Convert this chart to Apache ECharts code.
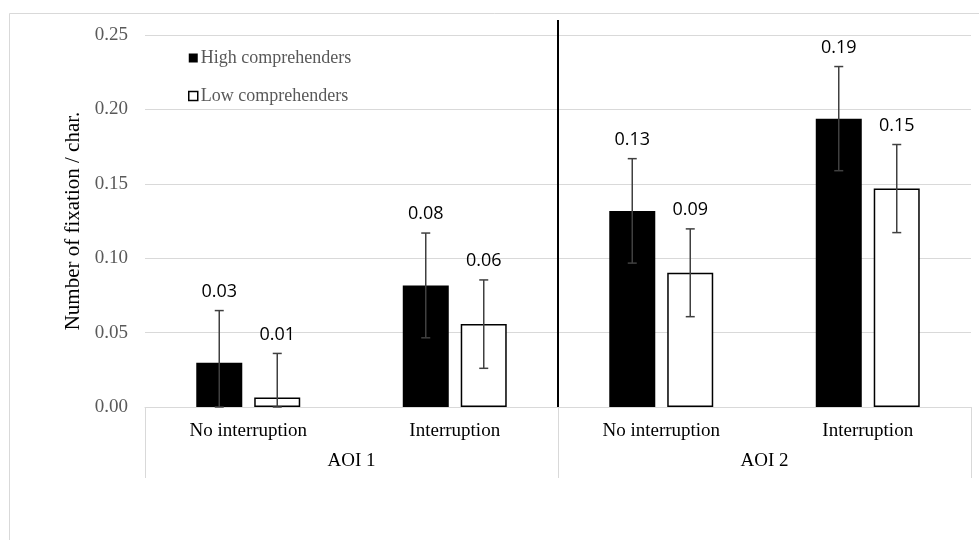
<!DOCTYPE html>
<html>
<head>
<meta charset="utf-8">
<script src="https://cdn.jsdelivr.net/npm/echarts@6/dist/echarts.min.js"></script>
<style>
  html, body { margin: 0; padding: 0; background: #fff; }
  #chart { width: 979px; height: 540px; }
</style>
</head>
<body>
<div id="chart"></div>
<script>
// categories
const conditions = ['No interruption', 'Interruption', 'No interruption', 'Interruption'];
const aois = ['AOI 1', 'AOI 2'];
const seriesNames = ['High comprehenders', 'Low comprehenders'];

// means + error (+/-) per condition
const highMean = [0.0298, 0.0817, 0.1318, 0.1938];
const highErr = [0.035, 0.0352, 0.0351, 0.035];
const lowMean = [0.0064, 0.0557, 0.0902, 0.1468];
const lowErr = [0.0296, 0.0297, 0.0295, 0.0296];

const yTicks = [0, 0.05, 0.10, 0.15, 0.20, 0.25];
const dividerAt = 2; // boundary between AOI 1 and AOI 2 (in category units)

const SERIF = '"Liberation Serif", "Times New Roman", serif';
const SANS = '"Open Sans", "Noto Sans", sans-serif';
const GRID_GRAY = '#d9d9d9';

const chart = echarts.init(document.getElementById('chart'));

function errorBars(means, errs, shift) {
  return {
    type: 'custom',
    xAxisIndex: 0,
    yAxisIndex: 0,
    silent: true,
    z: 5,
    data: means.map((m, i) => [i, m, errs[i]]),
    renderItem(params, api) {
      const i = api.value(0);
      const m = api.value(1);
      const e = api.value(2);
      const top = api.coord([i, m + e]);
      const bot = api.coord([i, Math.max(m - e, 0)]);
      const x = top[0] + shift;
      const cap = 4.5;
      const style = { stroke: '#404040', lineWidth: 1.5 };
      return {
        type: 'group',
        children: [
          { type: 'line', shape: { x1: x, y1: top[1], x2: x, y2: bot[1] }, style },
          { type: 'line', shape: { x1: x - cap, y1: top[1], x2: x + cap, y2: top[1] }, style },
          { type: 'line', shape: { x1: x - cap, y1: bot[1], x2: x + cap, y2: bot[1] }, style },
          {
            type: 'text',
            style: {
              x: x,
              y: top[1] - 19,
              text: m.toFixed(2),
              fill: '#000',
              font: '18px ' + SANS,
              align: 'center',
              verticalAlign: 'middle'
            }
          }
        ]
      };
    }
  };
}

const option = {
  animation: false,
  backgroundColor: '#fff',
  graphic: [
    {
      type: 'rect',
      shape: { x: 9.5, y: 13.5, width: 1000, height: 600 },
      style: { fill: 'none', stroke: GRID_GRAY, lineWidth: 1 },
      silent: true,
      z: -1
    }
  ],
  grid: { left: 145, right: 8, top: 35, bottom: 133, containLabel: false },
  legend: {
    data: [
      { name: seriesNames[0], icon: 'rect', itemStyle: { color: '#000', borderWidth: 0 } },
      { name: seriesNames[1], icon: 'rect', itemStyle: { color: '#fff', borderColor: '#000', borderWidth: 1.5 } }
    ],
    orient: 'vertical',
    left: 183,
    top: 44,
    itemWidth: 9,
    itemHeight: 9,
    itemGap: 20,
    textStyle: { fontFamily: SERIF, fontSize: 18, color: '#595959', padding: [0, 0, 0, -2] }
  },
  xAxis: [
    {
      type: 'category',
      data: conditions,
      position: 'bottom',
      axisLine: { show: true, lineStyle: { color: GRID_GRAY, width: 1 } },
      axisTick: { show: false },
      axisLabel: { fontFamily: SERIF, fontSize: 19, color: '#000', margin: 15 }
    },
    {
      type: 'category',
      data: aois,
      position: 'bottom',
      gridIndex: 0,
      axisLine: { show: false },
      axisTick: { show: true, length: 71, lineStyle: { color: GRID_GRAY, width: 1 } },
      axisLabel: { fontFamily: SERIF, fontSize: 19, color: '#000', margin: 45 }
    },
    {
      type: 'value',
      min: 0,
      max: conditions.length,
      show: false
    }
  ],
  yAxis: {
    type: 'value',
    min: yTicks[0],
    max: yTicks[yTicks.length - 1],
    interval: 0.05,
    name: 'Number of fixation / char.',
    nameLocation: 'middle',
    nameGap: 60,
    nameTextStyle: { fontFamily: SERIF, fontSize: 21, color: '#000' },
    axisLine: { show: false },
    axisTick: { show: false },
    splitLine: { lineStyle: { color: GRID_GRAY, width: 1 } },
    axisLabel: {
      fontFamily: SERIF,
      fontSize: 19,
      color: '#595959',
      margin: 17,
      formatter: (v) => v.toFixed(2)
    }
  },
  series: [
    {
      name: seriesNames[0],
      type: 'bar',
      data: highMean,
      barWidth: 46,
      barGap: '26%',
      itemStyle: { color: '#000' }
    },
    {
      name: seriesNames[1],
      type: 'bar',
      data: lowMean,
      barWidth: 46,
      barGap: '26%',
      itemStyle: { color: '#fff', borderColor: '#000', borderWidth: 1.5 }
    },
    errorBars(highMean, highErr, -29),
    errorBars(lowMean, lowErr, 29),
    {
      type: 'line',
      xAxisIndex: 2,
      yAxisIndex: 0,
      data: [[dividerAt, 0], [dividerAt, 0.26]],
      symbol: 'none',
      clip: false,
      silent: true,
      lineStyle: { color: '#000', width: 2 },
      z: 6
    }
  ]
};

chart.setOption(option);
</script>
</body>
</html>
